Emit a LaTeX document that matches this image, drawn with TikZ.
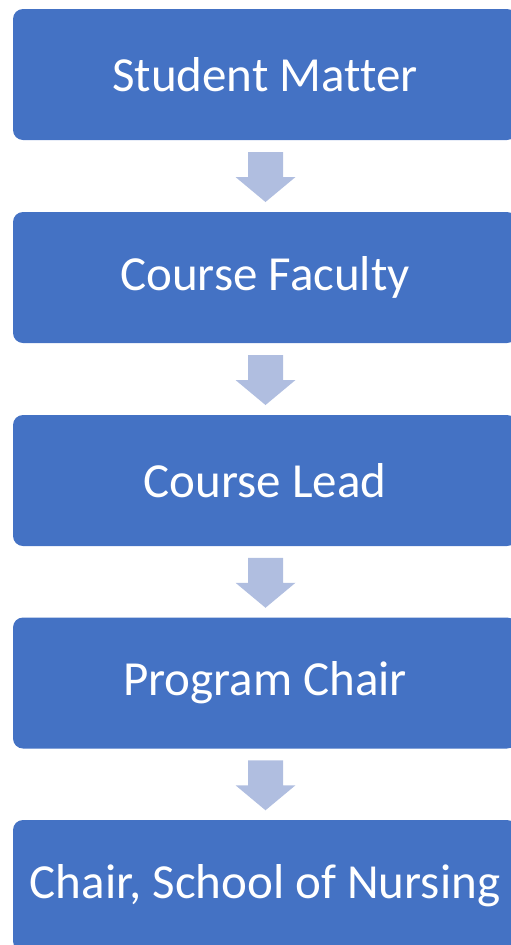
\documentclass[tikz,border=0pt]{standalone}
\usepackage{fontspec}
\setmainfont{Carlito}[Ligatures=NoCommon]
\usetikzlibrary{calc}
\definecolor{boxblue}{HTML}{4472C4}
\definecolor{arrowblue}{HTML}{B0BEE0}
\tikzset{
  stagebox/.style={fill=boxblue, draw=none, rounded corners=10pt, minimum width=504pt, minimum height=131pt, inner sep=0pt, text=white, font=\fontsize{49}{52}\selectfont},
  downarrow/.style={fill=arrowblue, draw=none}
}
\begin{document}
\begin{tikzpicture}[x=1pt,y=1pt]
\useasboundingbox (0,0) rectangle (511,-945);
\node[stagebox] (b1) at (265,-74.5) {Student Matter};
\node[stagebox] (b2) at (265,-277.5) {Course Faculty};
\node[stagebox] (b3) at (265,-480.5) {Course Lead};
\node[stagebox] (b4) at (265,-683) {Program Chair};
\node[stagebox] (b5) at (265,-885.5) {Chair, School of Nursing};
\foreach \a/\b in {b1/b2,b2/b3,b3/b4,b4/b5}{
  \coordinate (m) at ($(\a.south)!0.5!(\b.north)+(0.5,0)$);
  \fill[downarrow] ($(m)+(-17.5,24)$) -- ($(m)+(17.5,24)$) -- ($(m)+(17.5,-1)$) -- ($(m)+(30,-1)$) -- ($(m)+(0,-26)$) -- ($(m)+(-30,-1)$) -- ($(m)+(-17.5,-1)$) -- cycle;
}
\end{tikzpicture}
\end{document}
